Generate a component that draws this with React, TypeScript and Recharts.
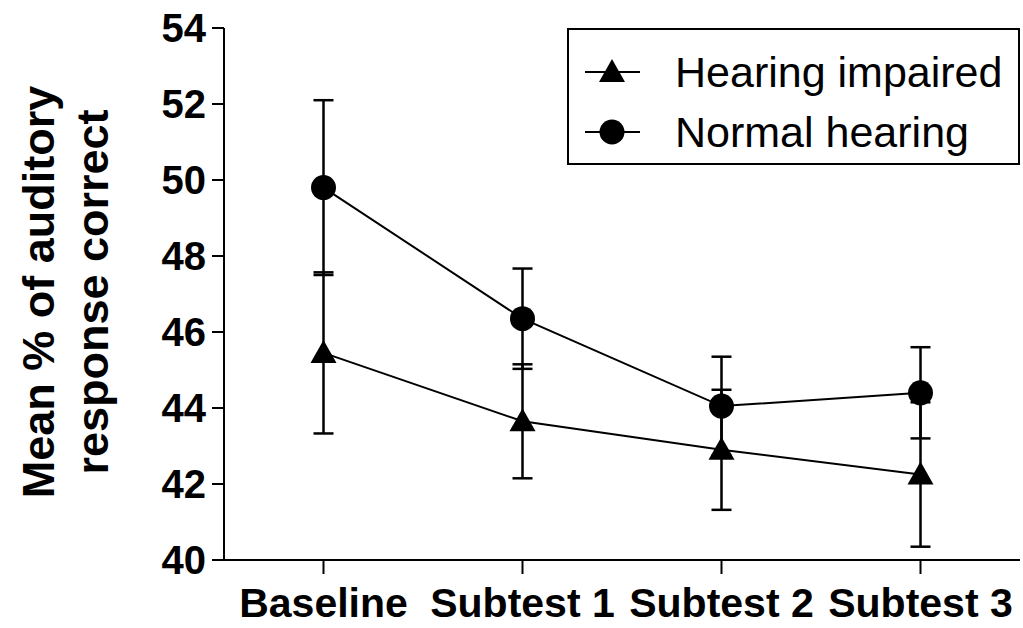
import { LineChart, Line, XAxis, YAxis, ErrorBar } from 'recharts';

const categories = ['Baseline', 'Subtest 1', 'Subtest 2', 'Subtest 3'];
const hearingImpaired = [45.45, 43.65, 42.9, 42.25];
const hearingImpairedErr = [2.12, 1.5, 1.58, 1.9];
const normalHearing = [49.8, 46.35, 44.05, 44.4];
const normalHearingErr = [2.3, 1.32, 1.3, 1.2];
const yTicks = [40, 42, 44, 46, 48, 50, 52, 54];

const data = categories.map((name, i) => ({
  name,
  hi: hearingImpaired[i],
  hiErr: hearingImpairedErr[i],
  nh: normalHearing[i],
  nhErr: normalHearingErr[i],
}));

const FONT = '"Liberation Sans", Arial, Helvetica, sans-serif';

const Triangle = (props: any) => {
  const { cx, cy } = props;
  if (cx == null || cy == null) return <g key={props.key} />;
  return (
    <polygon
      key={props.key}
      points={`${cx - 13},${cy + 10} ${cx + 13},${cy + 10} ${cx},${cy - 13}`}
      fill="#000"
    />
  );
};

const Circle = (props: any) => {
  const { cx, cy } = props;
  if (cx == null || cy == null) return <g key={props.key} />;
  return <circle key={props.key} cx={cx} cy={cy} r={12.5} fill="#000" />;
};

const legendItems = [
  { label: 'Hearing impaired', shape: 'tri', top: 42 },
  { label: 'Normal hearing', shape: 'circ', top: 102 },
];

const LegendBox = () => (
  <div
    style={{
      position: 'absolute',
      left: 567,
      top: 28,
      width: 449,
      height: 133,
      border: '2px solid #000',
      background: '#fff',
      fontFamily: FONT,
      fontSize: 43,
      color: '#000',
    }}
  >
    {legendItems.map((item) => (
      <div key={item.label} style={{ position: 'absolute', left: 0, top: item.top - 30, height: 60, display: 'flex', alignItems: 'center' }}>
        <svg width={90} height={60} style={{ display: 'block' }}>
          <line x1={16} y1={30} x2={71} y2={30} stroke="#000" strokeWidth={2} />
          {item.shape === 'tri' ? (
            <polygon points="30,40 56,40 43,17" fill="#000" />
          ) : (
            <circle cx={43} cy={30} r={12.5} fill="#000" />
          )}
        </svg>
        <span style={{ marginLeft: 16, lineHeight: 1 }}>{item.label}</span>
      </div>
    ))}
  </div>
);

const YLabel = () => (
  <g fontFamily={FONT} fontWeight="bold" fontSize={45} fill="#000">
    <text x={38} y={292} textAnchor="middle" dominantBaseline="central" transform="rotate(-90, 38, 292)">
      Mean % of auditory
    </text>
    <text x={92} y={292} textAnchor="middle" dominantBaseline="central" transform="rotate(-90, 92, 292)">
      response correct
    </text>
  </g>
);

export default function App() {
  return (
    <div style={{ position: 'absolute', left: 0, top: 0, width: 1023, height: 628, background: '#fff' }}>
      <LineChart width={1023} height={628} data={data} margin={{ top: 28, right: 3, left: 0, bottom: 0 }}>
        <XAxis
          dataKey="name"
          height={68}
          padding={{ left: 99.5, right: 99.5 }}
          axisLine={{ stroke: '#000', strokeWidth: 2 }}
          tickLine={{ stroke: '#000', strokeWidth: 2 }}
          tickSize={14}
          tickMargin={14}
          tick={{ fontSize: 41, fontWeight: 'bold', fontFamily: FONT, fill: '#000' }}
          interval={0}
        />
        <YAxis
          width={224}
          domain={[40, 54]}
          ticks={yTicks}
          allowDataOverflow
          axisLine={{ stroke: '#000', strokeWidth: 2 }}
          tickLine={{ stroke: '#000', strokeWidth: 2 }}
          tickSize={12}
          tickMargin={6}
          tick={{ fontSize: 40, fontWeight: 'bold', fontFamily: FONT, fill: '#000' }}
          label={{ content: () => <YLabel /> }}
        />
        <Line
          dataKey="hi"
          name="Hearing impaired"
          stroke="#000"
          strokeWidth={2}
          dot={(p: any) => <Triangle {...p} />}
          activeDot={false}
          isAnimationActive={false}
        >
          <ErrorBar dataKey="hiErr" direction="y" width={10} stroke="#000" strokeWidth={2.5} />
        </Line>
        <Line
          dataKey="nh"
          name="Normal hearing"
          stroke="#000"
          strokeWidth={2}
          dot={(p: any) => <Circle {...p} />}
          activeDot={false}
          isAnimationActive={false}
        >
          <ErrorBar dataKey="nhErr" direction="y" width={10} stroke="#000" strokeWidth={2.5} />
        </Line>
      </LineChart>
      <LegendBox />
    </div>
  );
}
